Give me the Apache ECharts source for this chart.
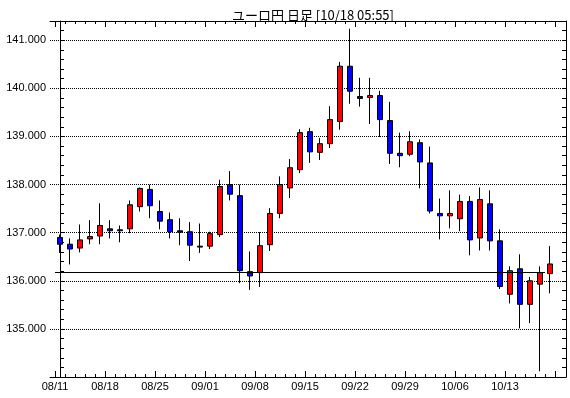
<!DOCTYPE html>
<html>
<head>
<meta charset="utf-8">
<title>ユーロ円 日足</title>
<script src="https://cdn.jsdelivr.net/npm/echarts@6/dist/echarts.min.js"></script>
<style>
	html,body{margin:0;padding:0;background:#fff;}
	#chart{width:570px;height:398px;}
</style>
</head>
<body>
<div id="chart"></div>
<script>
	// 日付 (営業日)
	var dates = [
		'08/11','08/12','08/13','08/14','08/15',
		'08/18','08/19','08/20','08/21','08/22',
		'08/25','08/26','08/27','08/28','08/29',
		'09/01','09/02','09/03','09/04','09/05',
		'09/08','09/09','09/10','09/11','09/12',
		'09/15','09/16','09/17','09/18','09/19',
		'09/22','09/23','09/24','09/25','09/26',
		'09/29','09/30','10/01','10/02','10/03',
		'10/06','10/07','10/08','10/09','10/10',
		'10/13','10/14','10/15','10/16','10/17'
	];
	// 始値 / 終値 / 安値 / 高値
	var opens = [
		136.90,136.76,136.68,136.87,136.93, 137.08,137.06,137.08,137.54,137.90,
		137.44,137.27,137.04,137.02,136.72, 136.72,136.96,138.00,137.77,136.19,
		136.17,136.75,137.40,137.93,138.31, 139.10,138.67,138.85,139.31,140.46,
		139.83,139.81,139.85,139.33,138.65, 138.63,138.87,138.45,137.40,137.35,
		137.29,137.65,136.89,137.60,136.83, 135.72,136.25,135.51,135.93,136.15
	];
	var closes = [
		136.76,136.66,136.85,136.92,137.15, 137.04,137.04,137.58,137.92,137.56,
		137.24,137.02,137.01,136.74,136.70, 136.98,137.96,137.80,136.21,136.10,
		136.73,137.40,138.00,138.35,139.08, 138.68,138.85,139.35,140.46,139.94,
		139.79,139.85,139.35,138.65,138.60, 138.89,138.47,137.45,137.35,137.40,
		137.65,136.85,137.69,136.83,135.88, 136.21,135.51,136.00,136.17,136.35
	];
	var lows = [
		136.58,136.34,136.59,136.76,136.76, 136.88,136.80,136.99,137.44,137.30,
		137.07,136.88,136.74,136.41,136.58, 136.66,136.91,137.67,135.95,135.81,
		135.87,136.62,137.30,137.72,138.24, 138.45,138.51,138.76,139.14,139.68,
		139.62,139.26,138.99,138.43,138.36, 138.59,137.92,137.40,136.86,137.09,
		137.03,136.53,136.63,136.63,135.83, 135.53,135.01,135.12,134.12,135.74
	];
	var highs = [
		136.96,136.88,137.17,137.26,137.61, 137.26,137.15,137.67,137.94,138.00,
		137.67,137.42,137.30,137.22,137.19, 137.02,138.10,138.28,138.00,136.61,
		137.01,137.51,138.17,138.53,139.15, 139.18,138.97,139.63,140.55,141.24,
		140.22,140.22,139.95,139.72,139.08, 139.11,138.94,138.79,137.71,137.88,
		137.79,137.76,137.94,137.88,137.07, 136.30,136.55,136.08,136.30,136.72
	];
	// 前日終値ライン
	var prevClose = 136.17;

	var yMin = 134, yMax = 141.4;
	var fontAxis = 'Liberation Sans';

	// ローソク足データ [x, 始, 終, 安, 高]
	var candleData = dates.map(function(d, i){
		return [i, opens[i], closes[i], lows[i], highs[i]];
	});
	// 目盛用 (区切りごと)
	var tickDates = dates.concat(['']);

	function tickAxis(position, len, interval, withLabel){
		return {
			gridIndex: 1,
			type: 'category',
			position: position,
			boundaryGap: false,
			data: tickDates,
			axisLine: {show: false},
			axisTick: {show: true, inside: true, length: len, interval: interval, lineStyle: {color: '#000', width: 1}},
			axisLabel: withLabel ? {
				show: true,
				interval: 4,
				margin: 4,
				color: '#000',
				fontFamily: fontAxis,
				fontSize: 11
			} : {show: false},
			splitLine: {show: false}
		};
	}

	function frameAxisX(position){
		return {
			gridIndex: 0,
			type: 'value',
			position: position,
			min: -1,
			max: 50.6,
			axisLine: {show: true, lineStyle: {color: '#000', width: 1}},
			axisTick: {show: false},
			axisLabel: {show: false},
			splitLine: {show: false}
		};
	}

	function minorAxisY(position){
		return {
			gridIndex: 0,
			type: 'value',
			position: position,
			min: yMin,
			max: yMax,
			interval: 0.2,
			axisLine: {show: true, lineStyle: {color: '#000', width: 1}},
			axisTick: {show: true, inside: true, length: 4, lineStyle: {color: '#000', width: 1}},
			axisLabel: {show: false},
			splitLine: {show: false}
		};
	}

	var option = {
		animation: false,
		backgroundColor: '#fff',
		title: {
			text: 'ユーロ円 日足 [10/18 05:55]',
			left: 308,
			top: 4,
			textAlign: 'center',
			textStyle: {
				fontFamily: 'Noto Sans CJK JP',
				fontSize: 13,
				fontWeight: 'normal',
				color: '#000'
			}
		},
		grid: [
			{left: 50, right: 4, top: 21, bottom: 21, outerBoundsMode: 'none', containLabel: false},
			{left: 55, right: 15, top: 21, bottom: 21, outerBoundsMode: 'none', containLabel: false}
		],
		xAxis: [
			frameAxisX('bottom'),
			frameAxisX('top'),
			tickAxis('bottom', 3, 0, false),
			tickAxis('bottom', 6, 4, true),
			tickAxis('top', 3, 0, false),
			tickAxis('top', 6, 4, false)
		],
		yAxis: [
			{
				gridIndex: 0,
				type: 'value',
				position: 'left',
				min: yMin,
				max: yMax,
				interval: 1,
				axisLine: {show: false},
				axisTick: {show: false},
				axisLabel: {
					margin: 4,
					color: '#000',
					fontFamily: fontAxis,
					fontSize: 11,
					showMinLabel: false,
					formatter: function(v){
						if (v <= yMin) return '';
						return Math.abs(v - Math.round(v)) < 1e-6 ? v.toFixed(3) : '';
					}
				},
				splitLine: {show: true, lineStyle: {color: '#000', width: 1, type: [1, 1]}}
			},
			minorAxisY('left'),
			minorAxisY('right'),
			{gridIndex: 1, type: 'value', min: yMin, max: yMax, show: false}
		],
		series: [
			{
				name: 'ユーロ円',
				type: 'candlestick',
				xAxisIndex: 0,
				yAxisIndex: 0,
				barWidth: 6,
				data: candleData,
				itemStyle: {
					color: '#ff0000',
					color0: '#0000ff',
					borderColor: '#000',
					borderColor0: '#000',
					borderColorDoji: '#000',
					borderWidth: 1
				},
				markLine: {
					silent: true,
					symbol: ['none', 'none'],
					label: {show: false},
					lineStyle: {color: '#000', type: 'solid', width: 1},
					data: [[
						{coord: [-0.5, prevClose]},
						{coord: [dates.length - 1.5, prevClose]}
					]]
				}
			}
		]
	};

	echarts.init(document.getElementById('chart')).setOption(option);
</script>
</body>
</html>
